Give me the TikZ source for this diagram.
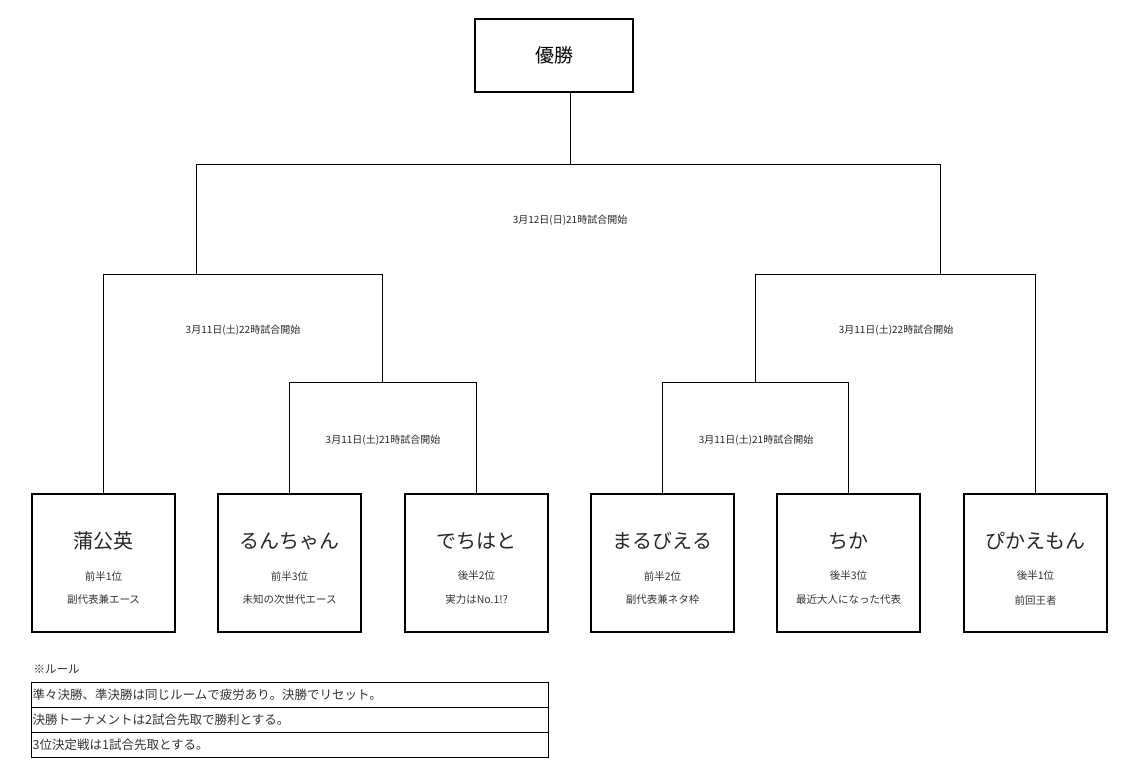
\documentclass[tikz,border=0pt]{standalone}
\usepackage{fontspec}
\setmainfont{Noto Sans CJK JP}
\begin{document}
\begin{tikzpicture}[x=1pt,y=-1pt,
 box/.style={draw,line width=1.2pt,minimum width=143pt,minimum height=138pt,inner sep=0pt},
 ln/.style={line width=1pt},
 lbl/.style={font=\fontsize{10}{11}\selectfont,text=black!85},
 sub/.style={font=\fontsize{10.5}{12}\selectfont,text=black!80},
 rowbox/.style={draw,line width=1pt,minimum width=517pt,minimum height=25pt,inner sep=2pt,anchor=north west}]
\useasboundingbox (0,0) rectangle (1125,775);
\node[draw,line width=1.2pt,minimum width=158pt,minimum height=73pt] (win) at (554,55.5) {\fontsize{19}{21}\selectfont 優勝};
\foreach \n/\x/\name/\a/\b in {p1/103.5/蒲公英/前半1位/副代表兼エース, p2/289.5/るんちゃん/前半3位/未知の次世代エース, p3/476.5/でちはと/後半2位/実力はNo.1!?, p4/662.5/まるびえる/前半2位/副代表兼ネタ枠, p5/848.5/ちか/後半3位/最近大人になった代表, p6/1035.5/ぴかえもん/後半1位/前回王者}{
 \node[box] (\n) at (\x,563) {};
 \node[font=\fontsize{20}{22}\selectfont,text=black!85] (\n n) at (\x,541) {\name};
 \node[sub] (\n a) at (\x,576) {\a};
 \node[sub] (\n b) at (\x,600) {\b};}
\coordinate (f) at (570,165);
\coordinate (fl) at (196,165); \coordinate (fr) at (940,165);
\coordinate (sl) at (196,275); \coordinate (sr) at (940,275);
\coordinate (ql) at (382,383); \coordinate (qr) at (755,383);
\draw[ln] (win.south -| f) -- (f);
\draw[ln] (sl) -- (fl) -- (fr) -- (sr);
\draw[ln] (p1.north) -- (p1.north |- sl) -- (382,275) -- (ql);
\draw[ln] (p2.north) -- (p2.north |- ql) -- (p3.north |- ql) -- (p3.north);
\draw[ln] (p6.north) -- (p6.north |- sr) -- (755,275) -- (qr);
\draw[ln] (p4.north) -- (p4.north |- qr) -- (p5.north |- qr) -- (p5.north);
\node[lbl] (l0) at (570,220) {3月12日(日)21時試合開始};
\node[lbl] (l1) at (243,330) {3月11日(土)22時試合開始};
\node[lbl] (l2) at (896,330) {3月11日(土)22時試合開始};
\node[lbl] (l3) at (383,440) {3月11日(土)21時試合開始};
\node[lbl] (l4) at (756,440) {3月11日(土)21時試合開始};
\node[anchor=west,font=\fontsize{11.5}{12}\selectfont,text=black!80] (rt) at (30,669) {※ルール};
\node[rowbox,anchor=north west] (r1) at (31,682) {};
\node[rowbox,anchor=north west] (r2) at (31,707) {};
\node[rowbox,anchor=north west] (r3) at (31,732) {};
\foreach \r/\t in {r1/準々決勝、準決勝は同じルームで疲労あり。決勝でリセット。, r2/決勝トーナメントは2試合先取で勝利とする。, r3/3位決定戦は1試合先取とする。}
 \node[anchor=west,font=\fontsize{12.5}{13}\selectfont,text=black!80,inner sep=1.5pt] at (\r.west) {\t};
\end{tikzpicture}
\end{document}
